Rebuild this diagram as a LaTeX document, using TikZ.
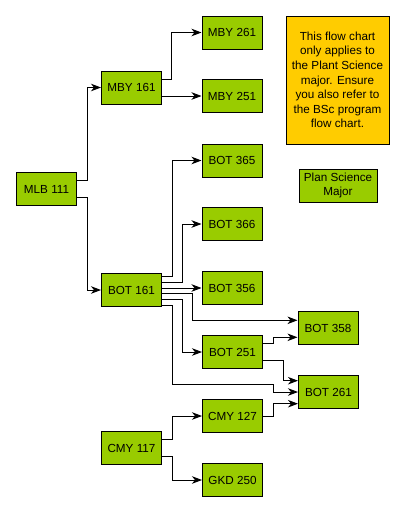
\documentclass[tikz,border=0pt]{standalone}
\usepackage{fontspec}
\setmainfont{Liberation Sans}
\usetikzlibrary{arrows.meta}
\definecolor{boxgreen}{HTML}{99CC00}
\definecolor{noteorange}{HTML}{FFCC00}
\begin{document}
\begin{tikzpicture}[x=1pt,y=-1pt,
  course/.style={draw=black,line width=1pt,fill=boxgreen,minimum width=60pt,minimum height=33pt,inner sep=0pt,font=\fontsize{11.7}{14}\selectfont},
  note/.style={draw=black,line width=1pt,fill=noteorange,minimum width=103pt,minimum height=128pt,inner sep=0pt,align=center,font=\fontsize{11.7}{14.6}\selectfont},
  arr/.style={line width=0.9pt,-{Stealth[length=10pt,width=7.5pt,inset=3pt]}}]
\useasboundingbox (0,0) rectangle (404,512);
\fill[white] (0,0) rectangle (404,512);
% nodes
\node[course] (mby261) at (232,32.5) {MBY 261};
\node[course] (mby161) at (131.5,87.5) {MBY 161};
\node[course] (mby251) at (232,96) {MBY 251};
\node[note] (notebox) at (337.5,80) {This flow chart\\ only applies to\\the Plant Science\\major. Ensure\\you also refer to\\the BSc program\\flow chart.};
\node[course] (bot365) at (232,160.5) {BOT 365};
\node[course] (mlb111) at (46.5,189) {MLB 111};
\node[course,minimum width=78pt,align=center,font=\fontsize{11.7}{14.5}\selectfont] (plan) at (338,185.5) {Plan Science\\Major};
\node[course] (bot366) at (232,224) {BOT 366};
\node[course] (bot161) at (131.5,290) {BOT 161};
\node[course] (bot356) at (232,288) {BOT 356};
\node[course] (bot358) at (328,328) {BOT 358};
\node[course] (bot251) at (232.5,352) {BOT 251};
\node[course] (bot261) at (328.5,392) {BOT 261};
\node[course] (cmy127) at (232.5,416) {CMY 127};
\node[course] (cmy117) at (131.5,448) {CMY 117};
\node[course] (gkd250) at (232.5,480) {GKD 250};
% connectors
\draw[arr] ([yshift=8.3pt]mlb111.east) -- ++(10,0) |- (mby161.west);
\draw[arr] ([yshift=-8pt]mlb111.east) -- ++(10,0) |- (bot161.west);
\draw[arr] ([yshift=8.2pt]mby161.east) -- ++(9.5,0) |- (mby261.west);
\draw[arr] (mby251.west -| mby161.east) -- (mby251.west);
\draw[arr] ([yshift=13.3pt]bot161.east) -- ++(10,0) |- (bot365.west);
\draw[arr] ([yshift=7.7pt]bot161.east) -- ++(20.7,0) |- (bot366.west);
\draw[arr] (bot356.west -| bot161.east) -- (bot356.west);
\draw[arr] ([yshift=-3.3pt]bot161.east) -- ++(30.3,0) |- ([yshift=7.7pt]bot358.west);
\draw[arr] ([yshift=-9.7pt]bot161.east) -- ++(20.7,0) |- (bot251.west);
\draw[arr] ([yshift=-15pt]bot161.east) -- ++(10.3,0) -- ++(0,79.3) -- ++(101,0) |- (bot261.west);
\draw[arr] ([yshift=8.7pt]bot251.east) -- ++(10.3,0) |- ([yshift=-9.3pt]bot358.west);
\draw[arr] ([yshift=-8.3pt]bot251.east) -- ++(20.7,0) |- ([yshift=11.3pt]bot261.west);
\draw[arr] (cmy127.east) -- ++(10.3,0) |- ([yshift=-11.7pt]bot261.west);
\draw[arr] ([yshift=8.7pt]cmy117.east) -- ++(10.3,0) |- (cmy127.west);
\draw[arr] ([yshift=-8pt]cmy117.east) -- ++(10.3,0) |- (gkd250.west);
\end{tikzpicture}
\end{document}
